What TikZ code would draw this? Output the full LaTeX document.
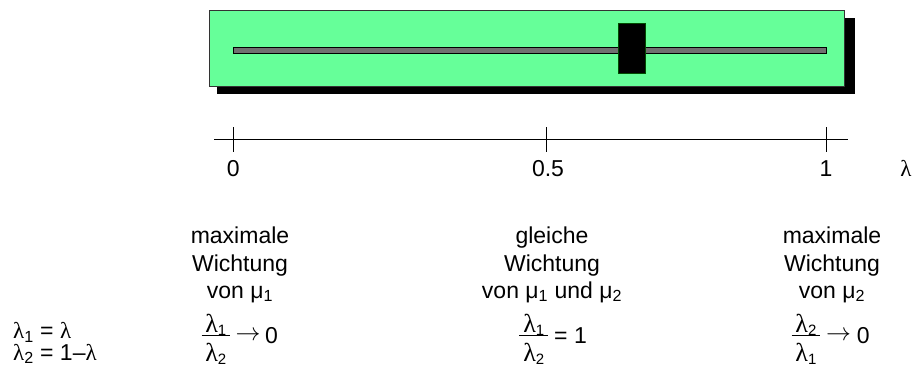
\documentclass[tikz,border=0pt]{standalone}
\usepackage{fontspec}
\setmainfont{Liberation Sans}
\newfontfamily\lamfont{Liberation Serif}
\usetikzlibrary{arrows.meta}
\definecolor{slidergreen}{HTML}{66FF99}
\definecolor{trackgray}{HTML}{707070}
\newcommand{\lam}{{\lamfont λ}}
\newcommand{\lamsub}[1]{{\lamfont λ}\textsubscript{#1}}
\newcommand{\lamfrac}[1]{{\lamfont λ}\raisebox{-3pt}{\fontsize{15}{15}\selectfont #1}}
\begin{document}
\begin{tikzpicture}[x=1pt,y=-1pt,
  txt/.style={inner sep=0pt, font=\fontsize{23}{27}\selectfont, anchor=base},
  fractxt/.style={inner sep=0pt, font=\fontsize{26}{30}\selectfont, anchor=base},
  axisline/.style={line width=1pt, black},
  fracbar/.style={line width=0.8pt, black},
  arrowglyph/.style={inner sep=0pt, anchor=west, font=\fontsize{30}{34}\selectfont},
  ]
\useasboundingbox (0,0) rectangle (914,368);
% slider
\fill[black] (217,18) rectangle (855,94);
\draw[fill=slidergreen, draw=black!80, line width=0.8pt] (209,10) rectangle (844,86);
\draw[fill=trackgray, draw=black, line width=0.8pt] (233.3,47.5) rectangle (826.4,53.5);
\draw[fill=black, draw=black!70!green, line width=0.8pt] (618,23) rectangle (645,73);
% axis
\coordinate (axL) at (214,139);
\coordinate (axR) at (848,139);
\draw[axisline] (axL) -- (axR);
\foreach \x in {233.3,546.7,826.7} \draw[axisline] (\x,127) -- (\x,152);
\node[txt] (l0) at (233.3,176.7) {0};
\node[txt] (l05) at (548,176.7) {0.5};
\node[txt] (l1) at (826,176.7) {1};
\node[txt] (llam) at (906,176.7) {\lam};
% column 1
\node[txt] (c1a) at (240,243.3) {maximale};
\node[txt] (c1b) at (240,271) {Wichtung};
\node[txt] (c1c) at (240,298) {von μ\textsubscript{1}};
\node[fractxt] (c1num) at (215.8,332.5) {\lamfrac{1}};
\node[fractxt] (c1den) at (215.8,361) {\lamfrac{2}};
\draw[fracbar] (201.7,335.7) -- (230,335.7);
\node[arrowglyph] (c1arr) at (235.5,335.7) {$\rightarrow$};
\node[txt, anchor=base west] (c1zero) at (265,343) {0};
% column 2
\node[txt] (c2a) at (552,243.3) {gleiche};
\node[txt] (c2b) at (552,271) {Wichtung};
\node[txt] (c2c) at (552,298) {von μ\textsubscript{1} und μ\textsubscript{2}};
\node[fractxt] (c2num) at (533.8,332.5) {\lamfrac{1}};
\node[fractxt] (c2den) at (533.8,361) {\lamfrac{2}};
\draw[fracbar] (519.3,335.7) -- (548.3,335.7);
\node[txt, anchor=base west] (c2eq) at (554,343) {= 1};
% column 3
\node[txt] (c3a) at (832,243.3) {maximale};
\node[txt] (c3b) at (832,271) {Wichtung};
\node[txt] (c3c) at (832,298) {von μ\textsubscript{2}};
\node[fractxt] (c3num) at (805.9,332.5) {\lamfrac{2}};
\node[fractxt] (c3den) at (805.9,361) {\lamfrac{1}};
\draw[fracbar] (791.7,335.7) -- (820,335.7);
\node[arrowglyph] (c3arr) at (825.8,335.7) {$\rightarrow$};
\node[txt, anchor=base west] (c3zero) at (856.7,343) {0};
% left definitions
\node[txt, anchor=base west] (def1) at (13,338.3) {\lamsub{1} = \lam};
\node[txt, anchor=base west] (def2) at (13,360) {\lamsub{2} = 1–\lam};
\end{tikzpicture}
\end{document}
